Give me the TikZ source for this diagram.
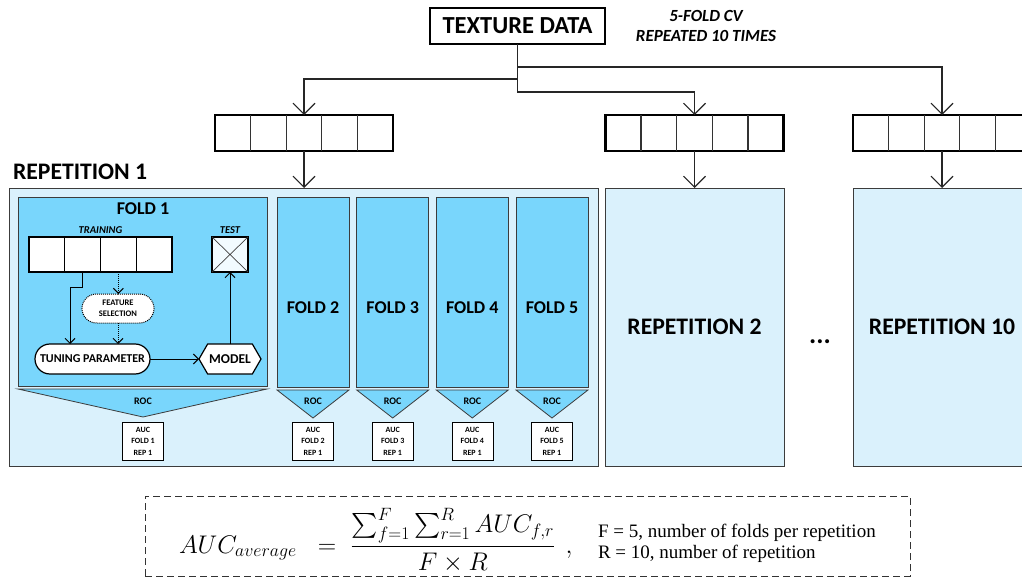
\RequirePackage{fix-cm}
\documentclass[tikz,border=0pt]{standalone}
\usepackage{exscale}
\usepackage{fontspec}
\setmainfont{Carlito}
\newfontfamily\notefont{Liberation Serif}
\usetikzlibrary{arrows.meta,shapes.misc,shapes.symbols,calc}
\definecolor{repfill}{HTML}{DAF1FC}
\definecolor{foldfill}{HTML}{79D6FC}
\definecolor{testfill}{HTML}{F2FBFF}
\definecolor{edgegray}{HTML}{3C3C3C}
\newcommand{\setfs}[1]{\fontsize{#1}{#1}\selectfont}
\begin{document}
\begin{tikzpicture}[x=1pt,y=-1pt,
  every node/.style={inner sep=0pt,outer sep=0pt},
  conn/.style={line width=1.1pt,draw=black!85},
  bigarrow/.style={conn,-{Straight Barb[length=11pt,width=22pt]}},
  smallarrow/.style={line width=1pt,draw=black,-{Straight Barb[length=5pt,width=10pt]}},
  dotarrow/.style={smallarrow,densely dotted},
  repbox/.style={draw=edgegray,line width=0.8pt,fill=repfill,anchor=north west,minimum height=278pt},
  foldbox/.style={draw=edgegray,line width=0.8pt,fill=foldfill,minimum height=190pt},
  arraybox/.style={draw=black,line width=2.6pt,fill=white,anchor=north west,minimum width=178pt,minimum height=36pt},
  divider/.style={line width=1.3pt,draw=black!80},
  rocshape/.style={draw=edgegray,line width=0.8pt,fill=foldfill},
  auc/.style={draw=black,line width=0.6pt,fill=white,anchor=north,minimum width=41pt,minimum height=38pt,align=center,font=\bfseries\fontsize{8}{11.5}\selectfont},
  biglabel/.style={font=\bfseries\setfs{23.7}},
  foldlabel/.style={font=\bfseries\setfs{18}},
  roclabel/.style={font=\bfseries\setfs{10},anchor=base},
  smalltitle/.style={font=\bfseries\itshape\setfs{10.5},anchor=base},
  mathtext/.style={font=\fontsize{25.5}{30}\selectfont},
]
\useasboundingbox (0,0) rectangle (1022,577);
\clip (0,0) rectangle (1022,577);

% ---------- top ----------
\node[draw=black,line width=2.4pt,fill=white,minimum width=175pt,minimum height=36pt,font=\bfseries\setfs{24.5}] (td) at (517.5,26) {TEXTURE DATA};
\node[font=\bfseries\itshape\setfs{17},anchor=base] (cv1) at (706,22) {5-FOLD CV};
\node[font=\bfseries\itshape\setfs{17},anchor=base] (cv2) at (706,42) {REPEATED 10 TIMES};

\node[arraybox] (arr1) at (215,115) {};
\node[arraybox] (arr2) at (605.5,115) {};
\node[arraybox] (arr3) at (853,115) {};
\foreach \a in {arr1,arr2,arr3}{
  \foreach \k in {1,2,3,4}{
    \draw[divider] ($(\a.north west)!\k/5!(\a.north east)$) -- ($(\a.south west)!\k/5!(\a.south east)$);
  }
}

\coordinate (hR) at (0,67);
\coordinate (hL) at (0,79);
\coordinate (hM) at (0,92);
\draw[bigarrow] (td.south) -- (td.south |- hL) -| (arr1.north);
\draw[bigarrow] (td.south) -- (td.south |- hM) -| (arr2.north);
\draw[bigarrow] (td.south) -- (td.south |- hR) -| (arr3.north);

% ---------- repetitions ----------
\node[repbox,minimum width=589pt] (rep1) at (9,188) {};
\node[repbox,minimum width=179pt,biglabel] (rep2) at (605,188) {REPETITION 2};
\node[repbox,minimum width=178pt,biglabel] (rep10) at (853,188) {REPETITION 10};
\node[biglabel,anchor=base west] (rep1lab) at (13,180) {REPETITION 1};
\node[font=\bfseries\setfs{27}] (dots) at (820,342) {...};

\draw[bigarrow] (arr1.south) -- (arr1.south |- rep1.north);
\draw[bigarrow] (arr2.south) -- (arr2.south |- rep2.north);
\draw[bigarrow] (arr3.south) -- (arr3.south |- rep10.north);

% ---------- fold 1 ----------
\node[foldbox,anchor=north west,minimum width=249pt,minimum height=189pt] (fold1) at (18,197) {};
\node[foldlabel,anchor=base] (f1lab) at (143,215) {FOLD 1};
\node[draw=black,line width=1.6pt,fill=white,anchor=north west,minimum width=143pt,minimum height=35pt] (train) at (29,237) {};
\foreach \k in {1,2,3}{
  \draw[line width=1.2pt] ($(train.north west)!\k/4!(train.north east)$) -- ($(train.south west)!\k/4!(train.south east)$);
}
\node[smalltitle] (trlab) at (100.5,233.5) {TRAINING};
\node[draw=black,line width=1.6pt,fill=testfill,anchor=north west,minimum width=36pt,minimum height=35pt] (test) at (212,237) {};
\draw[line width=0.7pt,draw=black!75] (test.north west) -- (test.south east) (test.north east) -- (test.south west);
\node[smalltitle] (testlab) at (230,233.5) {TEST};

\node[rounded rectangle,draw=black,densely dotted,line width=1pt,fill=white,minimum width=72pt,minimum height=29pt,align=center,font=\bfseries\fontsize{8.5}{11}\selectfont] (feat) at (118,308.5) {FEATURE\\SELECTION};
\node[rounded rectangle,draw=black,line width=1.2pt,fill=white,minimum width=115pt,minimum height=30pt,font=\bfseries\setfs{12}] (tun) at (92.5,359) {TUNING PARAMETER};
\node[signal,signal to=east and west,signal pointer angle=120,draw=black,line width=1.2pt,fill=white,minimum width=62pt,minimum height=30pt,font=\bfseries\setfs{13.5}] (model) at (230,359) {MODEL};

\coordinate (t2) at ($(train.south west)!0.375!(train.south east)$);
\coordinate (t3) at ($(train.south west)!0.625!(train.south east)$);
\coordinate (bend) at (70,287);
\draw[smallarrow] (t2) |- (bend) -- (bend |- tun.north);
\draw[dotarrow] (t3) -- (t3 |- feat.north);
\draw[dotarrow] (feat.south) -- (feat.south |- tun.north);
\draw[smallarrow] (tun.east) -- (model.west);
\draw[smallarrow] (model.north) -- (test.south);

\coordinate (r1tip) at (143,417);
\filldraw[rocshape] ([yshift=-3pt]fold1.south west) -- ([yshift=-3pt]fold1.south east) -- (r1tip) -- cycle;
\node[roclabel] (roc1) at (143,404) {ROC};
\node[auc] (auc1) at (143,422) {AUC\\FOLD 1\\REP 1};

% ---------- folds 2-5 ----------
\foreach \k/\cx in {2/313,3/392.7,4/472.3,5/552}{
  \node[foldbox,minimum width=72pt] (fold\k) at (\cx,292) {};
  \node[foldlabel] (fl\k) at (\cx,308) {FOLD \k};
  \coordinate (tip\k) at (\cx,418);
  \filldraw[rocshape] ([yshift=-3pt]fold\k.south west) -- ([yshift=-3pt]fold\k.south east) -- (tip\k) -- cycle;
  \node[roclabel] (roc\k) at (\cx,404) {ROC};
  \node[auc] (auc\k) at (\cx,422) {AUC\\FOLD \k\\REP 1};
}

% ---------- formula ----------
\node[draw=black!80,dash pattern=on 7pt off 4pt,line width=1pt,anchor=north west,minimum width=765pt,minimum height=80pt] (fbox) at (145,496) {};
\node[anchor=base west,mathtext] (formula) at (179,553) {$\displaystyle AUC_{average}\;\;=\;\frac{\sum_{f=1}^{F}\sum_{r=1}^{R} AUC_{f,r}}{F\times R}$};
\node[anchor=base,mathtext] (comma) at (569,553) {$,$};
\node[anchor=base west,font=\notefont\setfs{19}] (note1) at (598,537) {F = 5, number of folds per repetition};
\node[anchor=base west,font=\notefont\setfs{19}] (note2) at (598,558) {R = 10, number of repetition};
\end{tikzpicture}
\end{document}
